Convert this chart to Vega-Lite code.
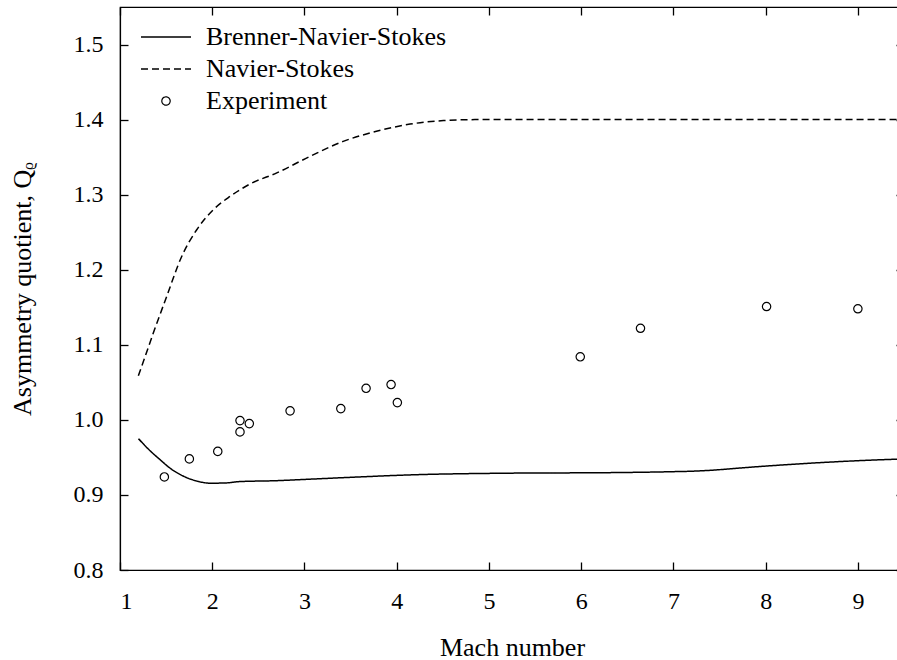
{
  "$schema": "https://vega.github.io/schema/vega-lite/v6.json",
  "width": 784,
  "height": 563,
  "autosize": {"type": "none"},
  "padding": {"left": 120, "top": 7, "right": -7, "bottom": 90},
  "background": "white",
  "config": {
    "font": "Liberation Serif",
    "view": {"stroke": "black", "strokeWidth": 1.2},
    "axis": {
      "domainColor": "black", "domainWidth": 1.2,
      "tickColor": "black", "tickWidth": 1.3, "tickSize": 8,
      "labelFont": "Liberation Serif", "labelFontSize": 24, "labelColor": "black",
      "titleFont": "Liberation Serif", "titleFontSize": 26, "titleFontWeight": "normal", "titleColor": "black",
      "grid": false
    }
  },
  "datasets": {
    "curves": [
      {"series": "Brenner-Navier-Stokes", "mach": 1.2, "q": 0.975},
      {"series": "Brenner-Navier-Stokes", "mach": 1.3, "q": 0.962},
      {"series": "Brenner-Navier-Stokes", "mach": 1.434, "q": 0.947},
      {"series": "Brenner-Navier-Stokes", "mach": 1.55, "q": 0.935},
      {"series": "Brenner-Navier-Stokes", "mach": 1.705, "q": 0.924},
      {"series": "Brenner-Navier-Stokes", "mach": 1.85, "q": 0.918},
      {"series": "Brenner-Navier-Stokes", "mach": 1.976, "q": 0.9156},
      {"series": "Brenner-Navier-Stokes", "mach": 2.15, "q": 0.916},
      {"series": "Brenner-Navier-Stokes", "mach": 2.3, "q": 0.9178},
      {"series": "Brenner-Navier-Stokes", "mach": 2.7, "q": 0.919},
      {"series": "Brenner-Navier-Stokes", "mach": 3.06, "q": 0.921},
      {"series": "Brenner-Navier-Stokes", "mach": 3.6, "q": 0.924},
      {"series": "Brenner-Navier-Stokes", "mach": 4.145, "q": 0.9267},
      {"series": "Brenner-Navier-Stokes", "mach": 5.23, "q": 0.929},
      {"series": "Brenner-Navier-Stokes", "mach": 6.31, "q": 0.9297},
      {"series": "Brenner-Navier-Stokes", "mach": 7.0, "q": 0.931},
      {"series": "Brenner-Navier-Stokes", "mach": 7.2, "q": 0.9316},
      {"series": "Brenner-Navier-Stokes", "mach": 7.4, "q": 0.9328},
      {"series": "Brenner-Navier-Stokes", "mach": 7.6, "q": 0.9346},
      {"series": "Brenner-Navier-Stokes", "mach": 7.8, "q": 0.9366},
      {"series": "Brenner-Navier-Stokes", "mach": 8.0, "q": 0.9384},
      {"series": "Brenner-Navier-Stokes", "mach": 8.5, "q": 0.9424},
      {"series": "Brenner-Navier-Stokes", "mach": 9.0, "q": 0.9456},
      {"series": "Brenner-Navier-Stokes", "mach": 9.5, "q": 0.948},
      {"series": "Navier-Stokes", "mach": 1.199, "q": 1.0587},
      {"series": "Navier-Stokes", "mach": 1.28, "q": 1.087},
      {"series": "Navier-Stokes", "mach": 1.361, "q": 1.1156},
      {"series": "Navier-Stokes", "mach": 1.506, "q": 1.1644},
      {"series": "Navier-Stokes", "mach": 1.669, "q": 1.2177},
      {"series": "Navier-Stokes", "mach": 1.832, "q": 1.2533},
      {"series": "Navier-Stokes", "mach": 2.012, "q": 1.28},
      {"series": "Navier-Stokes", "mach": 2.193, "q": 1.2977},
      {"series": "Navier-Stokes", "mach": 2.41, "q": 1.3142},
      {"series": "Navier-Stokes", "mach": 2.7, "q": 1.329},
      {"series": "Navier-Stokes", "mach": 3.06, "q": 1.351},
      {"series": "Navier-Stokes", "mach": 3.42, "q": 1.371},
      {"series": "Navier-Stokes", "mach": 3.78, "q": 1.3844},
      {"series": "Navier-Stokes", "mach": 4.145, "q": 1.394},
      {"series": "Navier-Stokes", "mach": 4.507, "q": 1.3987},
      {"series": "Navier-Stokes", "mach": 4.87, "q": 1.4},
      {"series": "Navier-Stokes", "mach": 5.5, "q": 1.4},
      {"series": "Navier-Stokes", "mach": 7.0, "q": 1.4},
      {"series": "Navier-Stokes", "mach": 9.5, "q": 1.4}
    ],
    "exp": [
      {"series": "Experiment", "mach": 1.481, "q": 0.924},
      {"series": "Experiment", "mach": 1.752, "q": 0.948},
      {"series": "Experiment", "mach": 2.06, "q": 0.958},
      {"series": "Experiment", "mach": 2.301, "q": 0.999},
      {"series": "Experiment", "mach": 2.301, "q": 0.984},
      {"series": "Experiment", "mach": 2.402, "q": 0.995},
      {"series": "Experiment", "mach": 2.844, "q": 1.012},
      {"series": "Experiment", "mach": 3.394, "q": 1.015},
      {"series": "Experiment", "mach": 3.668, "q": 1.042},
      {"series": "Experiment", "mach": 3.939, "q": 1.047},
      {"series": "Experiment", "mach": 4.007, "q": 1.023},
      {"series": "Experiment", "mach": 5.99, "q": 1.084},
      {"series": "Experiment", "mach": 6.643, "q": 1.122},
      {"series": "Experiment", "mach": 8.01, "q": 1.151},
      {"series": "Experiment", "mach": 9.0, "q": 1.148}
    ]
  },
  "layer": [
    {
      "data": {"name": "curves"},
      "mark": {"type": "line", "interpolate": "monotone", "strokeWidth": 1.5, "clip": true},
      "encoding": {
        "x": {
          "field": "mach", "type": "quantitative",
          "scale": {"domain": [1, 9.5], "nice": false, "zero": false},
          "axis": {"orient": "bottom", "values": [1, 2, 3, 4, 5, 6, 7, 8, 9], "title": "Mach number",
                   "ticks": false, "labelPadding": 19, "titleY": 85, "titleBaseline": "alphabetic"}
        },
        "y": {
          "field": "q", "type": "quantitative",
          "scale": {"domain": [0.8, 1.55], "nice": false, "zero": false},
          "axis": {"orient": "left", "values": [0.8, 0.9, 1.0, 1.1, 1.2, 1.3, 1.4, 1.5], "format": ".1f",
                   "title": "Asymmetry quotient, Qᵨ", "ticks": false, "labelPadding": 17,
                   "titleX": -90, "titleY": 281.5, "titleAngle": -90, "titleBaseline": "alphabetic", "titleAlign": "center"}
        },
        "color": {
          "field": "series", "type": "nominal",
          "scale": {"domain": ["Brenner-Navier-Stokes", "Navier-Stokes", "Experiment"], "range": ["black", "black", "black"]},
          "legend": {
            "orient": "none", "legendX": 33, "legendY": 17, "title": null,
            "labelFont": "Liberation Serif", "labelFontSize": 26, "labelColor": "black", "labelLimit": 500,
            "symbolSize": 2500, "symbolType": "stroke", "symbolStrokeWidth": 1.5,
            "labelOffset": 27, "rowPadding": 6, "padding": 0,
            "encode": {
              "symbols": {
                "update": {
                  "shape": {"signal": "datum.value === 'Experiment' ? 'circle' : 'stroke'"},
                  "size": {"signal": "datum.value === 'Experiment' ? 70 : 2500"},
                  "strokeDash": {"signal": "datum.value === 'Navier-Stokes' ? [7, 4] : [1, 0]"},
                  "stroke": {"value": "black"},
                  "fill": {"value": "transparent"},
                  "strokeWidth": {"signal": "datum.value === 'Experiment' ? 1.2 : 1.5"}
                }
              }
            }
          }
        },
        "strokeDash": {
          "field": "series", "type": "nominal",
          "scale": {"domain": ["Brenner-Navier-Stokes", "Navier-Stokes"], "range": [[1, 0], [7, 4]]},
          "legend": null
        }
      }
    },
    {
      "data": {"name": "exp"},
      "mark": {"type": "point", "shape": "circle", "filled": false, "size": 70, "strokeWidth": 1.2, "opacity": 1},
      "encoding": {
        "x": {"field": "mach", "type": "quantitative", "axis": null},
        "y": {"field": "q", "type": "quantitative", "axis": null},
        "color": {"field": "series", "type": "nominal"}
      }
    },
    {
      "data": {"name": "exp"},
      "mark": {"type": "point", "opacity": 0},
      "encoding": {
        "x": {"field": "mach", "type": "quantitative",
              "axis": {"orient": "bottom", "offset": -563, "labels": false, "title": null, "domain": false,
                       "values": [1, 2, 3, 4, 5, 6, 7, 8, 9]}},
        "y": {"field": "q", "type": "quantitative",
              "axis": {"orient": "left", "offset": -784, "labels": false, "title": null, "domain": false,
                       "values": [0.8, 0.9, 1.0, 1.1, 1.2, 1.3, 1.4, 1.5]}}
      }
    },
    {
      "data": {"name": "exp"},
      "mark": {"type": "point", "opacity": 0},
      "encoding": {
        "x": {"field": "mach", "type": "quantitative",
              "axis": {"orient": "top", "offset": -563, "labels": false, "title": null, "domain": false,
                       "values": [1, 2, 3, 4, 5, 6, 7, 8, 9]}},
        "y": {"field": "q", "type": "quantitative",
              "axis": {"orient": "right", "offset": -784, "labels": false, "title": null, "domain": false,
                       "values": [0.8, 0.9, 1.0, 1.1, 1.2, 1.3, 1.4, 1.5]}}
      }
    }
  ],
  "resolve": {"axis": {"x": "independent", "y": "independent"}}
}
